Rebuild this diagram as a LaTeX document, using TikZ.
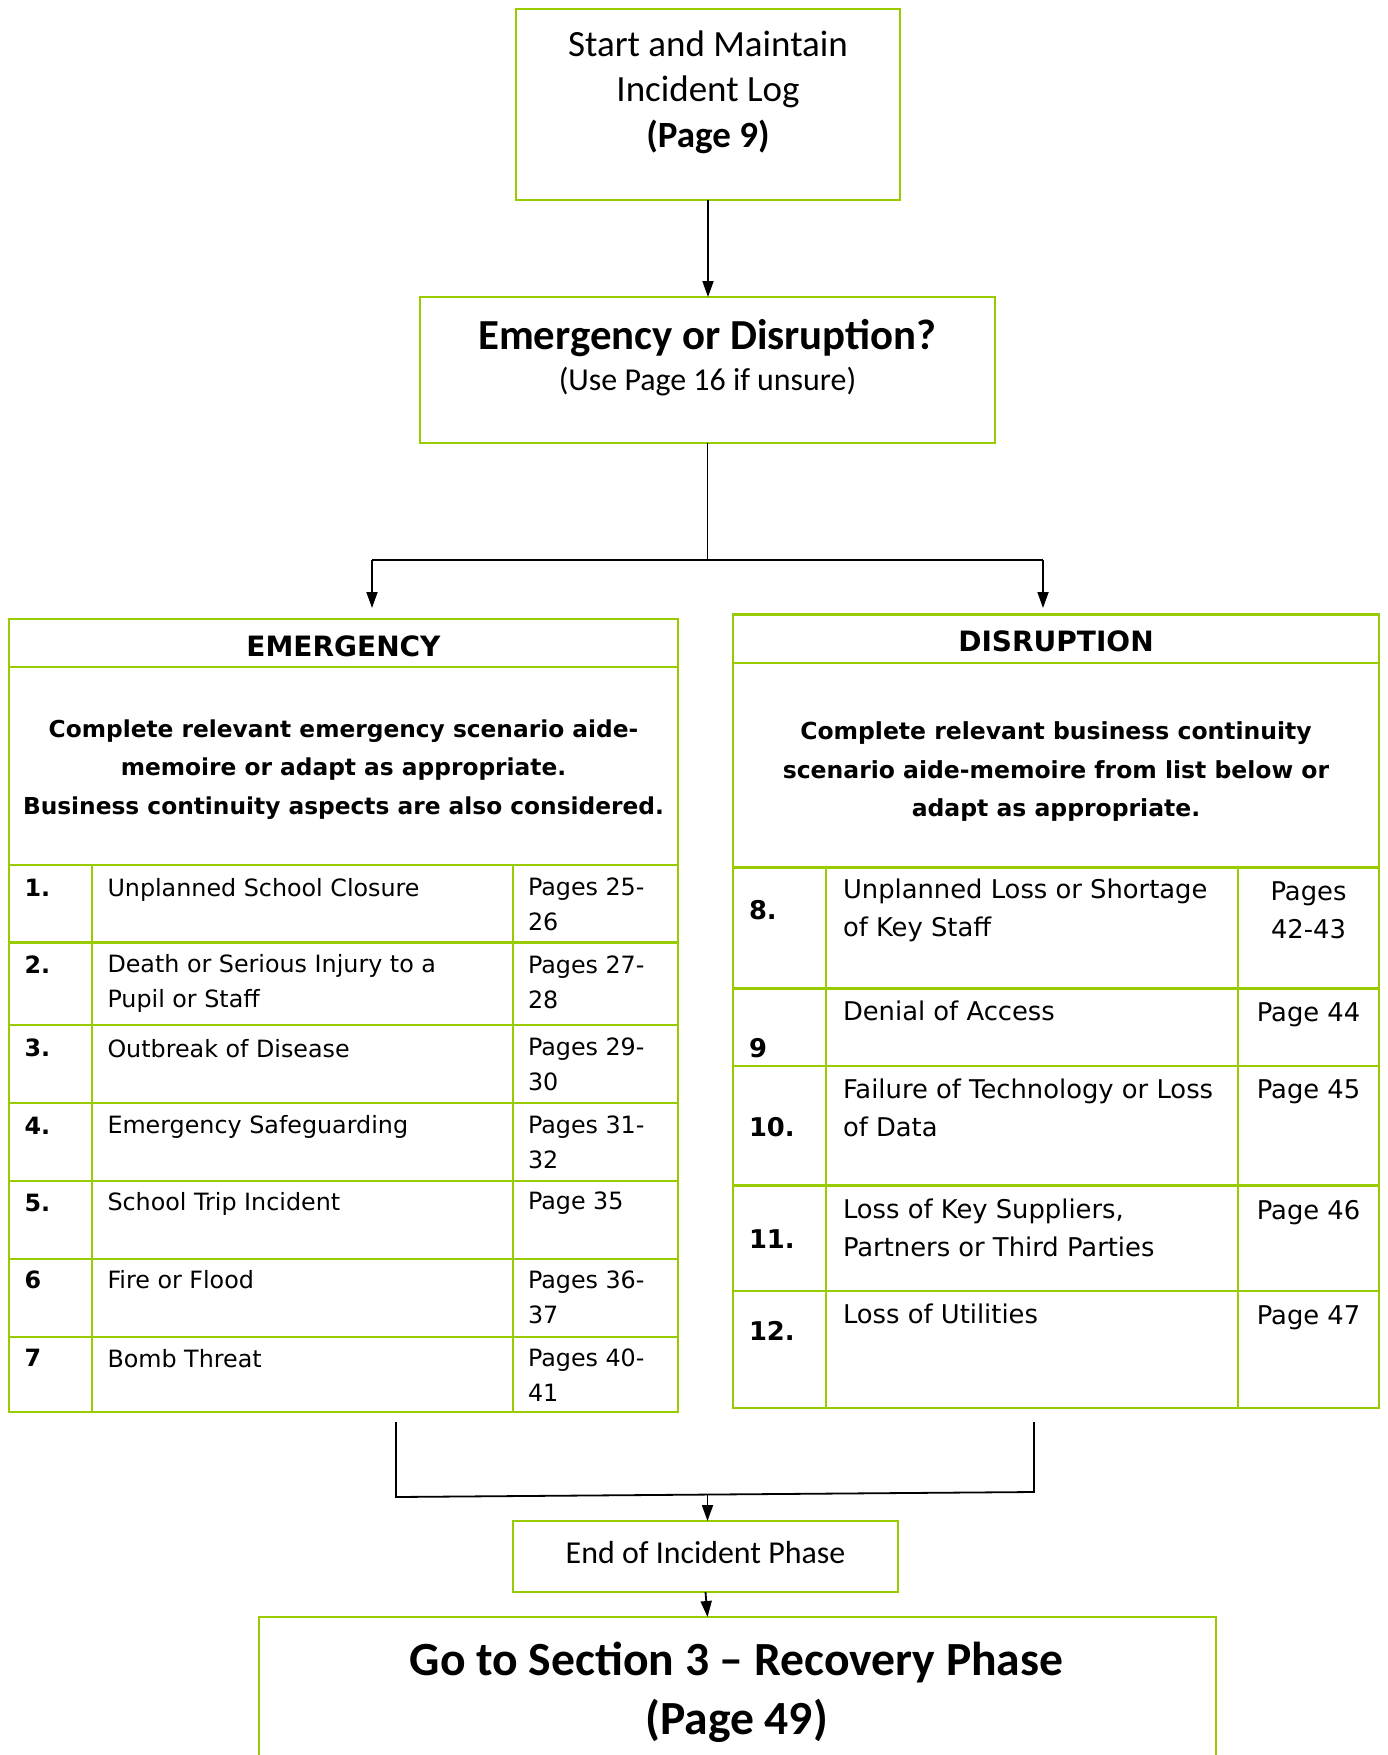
\documentclass[tikz,border=0pt]{standalone}
\usepackage{fontspec}
\setmainfont{Carlito}
\newfontfamily\tabfont{DejaVu Sans}
\usetikzlibrary{arrows.meta}
\definecolor{lime}{HTML}{99CC00}
\begin{document}
\begin{tikzpicture}[x=1pt,y=-1pt,
  gbox/.style={draw=lime, line width=2.2pt, inner sep=0pt, outer sep=0pt},
  gline/.style={draw=lime, line width=2.2pt},
  conn/.style={draw=black, line width=1.8pt},
  arr/.style={conn, -{Triangle[length=16pt,width=11pt]}},
  txt/.style={inner sep=0pt, outer sep=0pt, align=center},
  ltxt/.style={inner sep=0pt, outer sep=0pt, align=left, anchor=west},
  ctab/.style={inner sep=0pt, outer sep=0pt, align=center},
  efont/.style={font=\tabfont\fontsize{23.8}{34.7}\selectfont},
  dfont/.style={font=\tabfont\fontsize{25.8}{38}\selectfont},
  enum/.style={ltxt, font=\tabfont\bfseries\fontsize{23.8}{34.7}\selectfont},
  dnum/.style={ltxt, font=\tabfont\bfseries\fontsize{25.8}{38}\selectfont}
]
\clip (0,0) rectangle (1387,1755);
\useasboundingbox (0,0) rectangle (1387,1755);
\fill[white] (0,0) rectangle (1387,1755);

% top boxes
\node[gbox, minimum width=384pt, minimum height=191pt] (b1) at (708,104.5) {};
\node[txt, font=\fontsize{37}{45.5}\selectfont] (t1) at (708,92) {Start and Maintain\\Incident Log\\\textbf{(Page 9)}};

\node[gbox, minimum width=575pt, minimum height=146pt] (b2) at (707.5,370) {};
\node[txt, font=\bfseries\fontsize{42.8}{50}\selectfont] (t2a) at (707.5,338.5) {Emergency or Disruption?};
\node[txt, font=\fontsize{31.9}{38}\selectfont] (t2b) at (707.5,382) {(Use Page 16 if unsure)};

% emergency table
\node[gbox, minimum width=669pt, minimum height=792.6pt] (em) at (343.5,1015.3) {};
\draw[gline] (9,667) -- (678,667);
\draw[gline] (9,865) -- (678,865);
\foreach \yy in {942.5,1025,1103,1181,1259,1337} \draw[gline] (9,\yy) -- (678,\yy);
\draw[gline] (92,865) -- (92,1411.6);
\draw[gline] (513,865) -- (513,1411.6);
\node[txt, font=\tabfont\bfseries\fontsize{28}{34}\selectfont] (eh) at (343.5,646) {EMERGENCY};
\node[txt, font=\tabfont\bfseries\fontsize{23.3}{38.5}\selectfont] (ei) at (343.5,769.5) {Complete relevant emergency scenario aide-\\memoire or adapt as appropriate.\\Business continuity aspects are also considered.};

\node[enum] (n1) at (24.6,887.5) {1.};
\node[ltxt, efont] (i1) at (107.5,889.5) {Unplanned School Closure};
\node[ltxt, efont] (p1) at (528,904.4) {Pages 25-\\26};
\node[enum] (n2) at (24.6,965) {2.};
\node[ltxt, efont] (i2) at (107.5,983.5) {Death or Serious Injury to a\\Pupil or Staff};
\node[ltxt, efont] (p2) at (528,982.5) {Pages 27-\\28};
\node[enum] (n3) at (24.6,1047.5) {3.};
\node[ltxt, efont] (i3) at (107.5,1048.5) {Outbreak of Disease};
\node[ltxt, efont] (p3) at (528,1064.4) {Pages 29-\\30};
\node[enum] (n4) at (24.6,1125.5) {4.};
\node[ltxt, efont] (i4) at (107.5,1126.5) {Emergency Safeguarding};
\node[ltxt, efont] (p4) at (528,1142.4) {Pages 31-\\32};
\node[enum] (n5) at (24.6,1202.5) {5.};
\node[ltxt, efont] (i5) at (107.5,1203.5) {School Trip Incident};
\node[ltxt, efont] (p5) at (528,1203.5) {Page 35};
\node[enum] (n6) at (24.6,1280) {6};
\node[ltxt, efont] (i6) at (107.5,1280) {Fire or Flood};
\node[ltxt, efont] (p6) at (528,1297.4) {Pages 36-\\37};
\node[enum] (n7) at (24.6,1358) {7};
\node[ltxt, efont] (i7) at (107.5,1358.5) {Bomb Threat};
\node[ltxt, efont] (p7) at (528,1375.4) {Pages 40-\\41};

% disruption table
\node[gbox, minimum width=646pt, minimum height=793.5pt] (di) at (1056,1011.25) {};
\draw[gline] (733,663) -- (1379,663);
\draw[gline] (733,867.5) -- (1379,867.5);
\foreach \yy in {988.5,1066,1185.5,1290.7} \draw[gline] (733,\yy) -- (1379,\yy);
\draw[gline] (826,867.5) -- (826,1408);
\draw[gline] (1238,867.5) -- (1238,1408);
\node[txt, font=\tabfont\bfseries\fontsize{28}{34}\selectfont] (dh) at (1056,641.4) {DISRUPTION};
\node[txt, font=\tabfont\bfseries\fontsize{23.5}{38.5}\selectfont] (dint) at (1056,772) {Complete relevant business continuity\\scenario aide-memoire from list below or\\adapt as appropriate.};

\node[dnum] (n8) at (749,910) {8.};
\node[ltxt, dfont] (i8) at (843,910.5) {Unplanned Loss or Shortage\\of Key Staff};
\node[ctab, dfont] (p8) at (1308.5,910.5) {Pages\\42-43};
\node[dnum] (n9) at (749,1048) {9};
\node[ltxt, dfont] (i9) at (843,1011) {Denial of Access};
\node[ctab, dfont] (p9) at (1308.5,1014.5) {Page 44};
\node[dnum] (n10) at (749,1127) {10.};
\node[ltxt, dfont] (i10) at (843,1107.5) {Failure of Technology or Loss\\of Data};
\node[ctab, dfont] (p10) at (1308.5,1091.5) {Page 45};
\node[dnum] (n11) at (749,1239) {11.};
\node[ltxt, dfont] (i11) at (843,1228) {Loss of Key Suppliers,\\Partners or Third Parties};
\node[ctab, dfont] (p11) at (1308.5,1212.5) {Page 46};
\node[dnum] (n12) at (749,1331) {12.};
\node[ltxt, dfont] (i12) at (843,1314) {Loss of Utilities};
\node[ctab, dfont] (p12) at (1308.5,1317.5) {Page 47};

% bottom boxes
\node[gbox, minimum width=385pt, minimum height=71pt] (eb) at (705.5,1556.5) {};
\node[txt, font=\fontsize{31.9}{38}\selectfont] (te) at (705.5,1552.6) {End of Incident Phase};
\coordinate (fTL) at (259,1617);
\coordinate (fTR) at (1216,1617);
\coordinate (fBL) at (259,1770);
\coordinate (fBR) at (1216,1770);
\draw[gline] (fBL) -- (fTL) -- (fTR) -- (fBR);
\coordinate (fTop) at (707.5,1617);
\node[txt, font=\bfseries\fontsize{47.6}{59}\selectfont] (tf) at (736.6,1692) {Go to Section 3 – Recovery Phase\\(Page 49)};

% connectors
\coordinate (j1) at (707.5,560);
\coordinate (jl) at (372,560);
\coordinate (jr) at (1043,560);
\coordinate (ea) at (372,608);
\coordinate (da) at (1043,608);
\draw[arr] (b1.south) -- (b1.south |- b2.north);
\draw[conn] (b2.south) -- (j1);
\draw[conn] (jl) -- (jr);
\draw[arr] (jl) -- (ea);
\draw[arr] (jr) -- (da);

\coordinate (ls) at (396,1422);
\coordinate (lb) at (396,1497);
\coordinate (rs) at (1034,1422);
\coordinate (rb) at (1034,1492);
\coordinate (mj) at (707.5,1494.5);
\draw[conn] (ls) -- (lb) -- (rb) -- (rs);
\draw[arr] (mj) -- (mj |- eb.north);
\draw[arr] (eb.south) -- (fTop);
\end{tikzpicture}
\end{document}
